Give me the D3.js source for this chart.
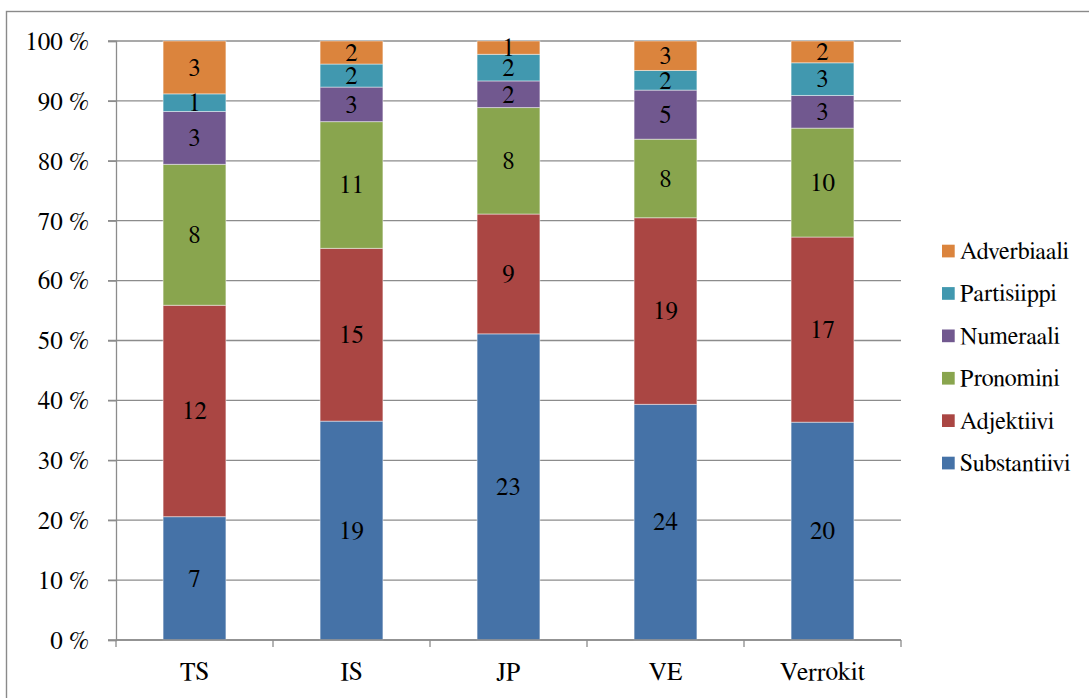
<!DOCTYPE html>
<html>
<head>
<meta charset="utf-8">
<script src="https://cdn.jsdelivr.net/npm/d3@7"></script>
<style>
  html, body { margin: 0; padding: 0; background: #fff; }
  svg { display: block; }
</style>
</head>
<body>
<svg id="chart" width="1089" height="698"></svg>
<script>
// Word classes counted per text group, shown as a 100 % stacked column chart
const groups = ["TS", "IS", "JP", "VE", "Verrokit"];
const seriesNames = ["Substantiivi", "Adjektiivi", "Pronomini", "Numeraali", "Partisiippi", "Adverbiaali"];
const substantiivi = [7, 19, 23, 24, 20];
const adjektiivi   = [12, 15, 9, 19, 17];
const pronomini    = [8, 11, 8, 8, 10];
const numeraali    = [3, 3, 2, 5, 3];
const partisiippi  = [1, 2, 2, 2, 3];
const adverbiaali  = [3, 2, 1, 3, 2];
const yTicks = [0, 0.1, 0.2, 0.3, 0.4, 0.5, 0.6, 0.7, 0.8, 0.9, 1];
const colors = ["#4572A7", "#AA4643", "#89A54E", "#71588F", "#4198AF", "#DB843D"];

const FAMILY = "'Nimbus Roman', FreeSerif, Tinos, 'Liberation Serif', 'Times New Roman'";
const serif = size => `font-family: ${FAMILY}; font-size: ${size}px`;

const seriesValues = [substantiivi, adjektiivi, pronomini, numeraali, partisiippi, adverbiaali];
const rows = groups.map((g, i) => {
  const row = { group: g };
  seriesNames.forEach((s, k) => { row[s] = seriesValues[k][i]; });
  return row;
});

const plot = { left: 116, right: 901, top: 41, bottom: 640 };
const x = d3.scaleBand().domain(groups).range([plot.left, plot.right]).padding(0);
const y = d3.scaleLinear().domain([0, 1]).range([plot.bottom, plot.top]);
const color = d3.scaleOrdinal().domain(seriesNames).range(colors);
const stack = d3.stack().keys(seriesNames).offset(d3.stackOffsetExpand);

function draw() {
  const svg = d3.select("#chart");
  svg.selectAll("*").remove();

  // outer chart frame
  svg.append("rect")
    .attr("x", 6.5).attr("y", 11.5)
    .attr("width", 1200).attr("height", 800)
    .attr("fill", "none").attr("stroke", "#8a8a8a").attr("stroke-width", 1.4);

  // horizontal gridlines
  svg.append("g")
    .selectAll("line")
    .data(yTicks)
    .join("line")
    .attr("x1", plot.left - 8).attr("x2", plot.right)
    .attr("y1", d => y(d)).attr("y2", d => y(d))
    .attr("stroke", "#8c8c8c").attr("stroke-width", 1.3);

  // stacked, normalised to 100 %
  const layers = stack(rows);
  const barW = x.bandwidth() * 0.4;
  const barX = g => x(g) + (x.bandwidth() - barW) / 2;

  svg.append("g")
    .selectAll("g")
    .data(layers)
    .join("g")
    .attr("fill", d => color(d.key))
    .selectAll("rect")
    .data(d => d)
    .join("rect")
    .attr("x", d => barX(d.data.group))
    .attr("width", barW)
    .attr("y", d => y(d[1]))
    .attr("height", d => y(d[0]) - y(d[1]))
    .attr("stroke", "rgba(255,255,255,0.45)")
    .attr("stroke-width", 1);

  // count labels in the middle of each segment
  layers.forEach(layer => {
    svg.selectAll(null)
      .data(layer)
      .join("text")
      .attr("x", d => x(d.data.group) + x.bandwidth() / 2)
      .attr("y", d => y((d[0] + d[1]) / 2) + 8.3)
      .attr("text-anchor", "middle")
      .attr("style", serif(25))
      .text(d => d.data[layer.key]);
  });

  // y axis
  const yAxis = svg.append("g")
    .attr("transform", `translate(${plot.left},0)`)
    .call(d3.axisLeft(y).tickValues(yTicks).tickSize(8).tickPadding(19)
      .tickFormat(d => Math.round(d * 100) + " %"));
  yAxis.attr("font-family", null).attr("font-size", null);
  yAxis.select(".domain").attr("stroke", "#8c8c8c").attr("stroke-width", 1.3);
  yAxis.selectAll(".tick line").attr("stroke", "#8c8c8c").attr("stroke-width", 1.3);
  yAxis.selectAll(".tick text")
    .attr("dy", null).attr("y", 8.3)
    .attr("style", serif(25))
    .attr("fill", "#000");

  // x axis with ticks on category boundaries
  const xAxisG = svg.append("g").attr("transform", `translate(0,${plot.bottom})`);
  xAxisG.append("line")
    .attr("x1", plot.left).attr("x2", plot.right)
    .attr("stroke", "#8c8c8c").attr("stroke-width", 1.3);
  const boundaries = groups.map(g => x(g)).concat([x(groups[groups.length - 1]) + x.bandwidth()]);
  xAxisG.selectAll("line.tk")
    .data(boundaries)
    .join("line")
    .attr("class", "tk")
    .attr("x1", d => d).attr("x2", d => d)
    .attr("y1", 0).attr("y2", 7)
    .attr("stroke", "#8c8c8c").attr("stroke-width", 1.3);
  xAxisG.selectAll("text")
    .data(groups)
    .join("text")
    .attr("x", d => x(d) + x.bandwidth() / 2)
    .attr("y", 40)
    .attr("text-anchor", "middle")
    .attr("style", serif(25.5))
    .text(d => d);

  // legend, top entry = top of the stack
  const legendItems = seriesNames.slice().reverse();
  const li = svg.append("g").attr("transform", "translate(942,251)")
    .selectAll("g")
    .data(legendItems)
    .join("g")
    .attr("transform", (d, i) => `translate(0,${i * 42.4})`);
  li.append("rect")
    .attr("x", 0).attr("y", -6.3)
    .attr("width", 12.7).attr("height", 12.7)
    .attr("fill", d => color(d));
  li.append("text")
    .attr("x", 18).attr("y", 8)
    .attr("style", serif(24))
    .text(d => d);
}

draw();
// redraw once the serif faces are ready
if (document.fonts && document.fonts.load) {
  Promise.all([
    document.fonts.load("25px 'Nimbus Roman'"),
    document.fonts.load("25px FreeSerif")
  ]).then(draw, () => {});
}
</script>
</body>
</html>
